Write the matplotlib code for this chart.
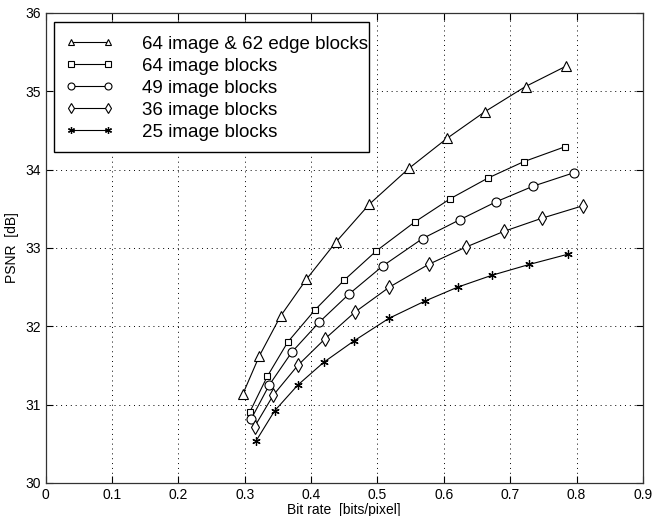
import matplotlib
matplotlib.use("Agg")
import matplotlib.pyplot as plt
from matplotlib.patches import Rectangle

plt.rcParams['font.family'] = ['Liberation Sans', 'DejaVu Sans']

x_tri = [0.297, 0.322, 0.354, 0.393, 0.437, 0.488, 0.548, 0.605, 0.662, 0.723, 0.784]
y_tri = [31.13, 31.62, 32.13, 32.60, 33.07, 33.56, 34.02, 34.40, 34.74, 35.06, 35.32]

x_sq = [0.308, 0.334, 0.365, 0.406, 0.450, 0.498, 0.556, 0.610, 0.666, 0.720, 0.782]
y_sq = [30.91, 31.36, 31.80, 32.21, 32.59, 32.96, 33.33, 33.63, 33.89, 34.10, 34.29]

x_ci = [0.310, 0.337, 0.371, 0.412, 0.457, 0.508, 0.568, 0.624, 0.679, 0.735, 0.796]
y_ci = [30.82, 31.25, 31.67, 32.05, 32.41, 32.77, 33.12, 33.36, 33.59, 33.79, 33.96]

x_di = [0.315, 0.343, 0.380, 0.421, 0.466, 0.518, 0.577, 0.633, 0.690, 0.748, 0.810]
y_di = [30.72, 31.12, 31.50, 31.84, 32.18, 32.50, 32.79, 33.01, 33.21, 33.38, 33.54]

x_st = [0.317, 0.345, 0.380, 0.419, 0.464, 0.517, 0.571, 0.621, 0.672, 0.729, 0.787]
y_st = [30.535, 30.92, 31.25, 31.54, 31.81, 32.10, 32.32, 32.50, 32.65, 32.79, 32.92]

labels = ["64 image & 62 edge blocks", "64 image blocks", "49 image blocks",
          "36 image blocks", "25 image blocks"]
xticks = [0, 0.1, 0.2, 0.3, 0.4, 0.5, 0.6, 0.7, 0.8, 0.9]
xtick_labels = ["0", "0.1", "0.2", "0.3", "0.4", "0.5", "0.6", "0.7", "0.8", "0.9"]
yticks = [30, 31, 32, 33, 34, 35, 36]

fig = plt.figure(figsize=(6.53, 5.16), dpi=100)
ax = fig.add_axes([0.0697, 0.064, 0.915, 0.911])

series = [(x_tri, y_tri, '^', 7), (x_sq, y_sq, 's', 5), (x_ci, y_ci, 'o', 6.5),
          (x_di, y_di, 'D', 5), (x_st, y_st, '*', 6)]
for (xs, ys, m, ms), lab in zip(series, labels):
    if m == 'D':
        ax.plot(xs, ys, color='black', lw=0.8, marker='d', ms=7.5,
                mfc='white', mec='black', mew=0.8, label=lab)
    elif m == '*':
        ax.plot(xs, ys, color='black', lw=0.8, marker=(6, 2, 0), ms=6,
                mfc='black', mec='black', mew=0.9, label=lab)
    else:
        ax.plot(xs, ys, color='black', lw=0.8, marker=m, ms=ms,
                mfc='white', mec='black', mew=0.8, label=lab)

ax.set_xlim(0, 0.9)
ax.set_ylim(30, 36)
ax.set_xticks(xticks)
ax.set_xticklabels(xtick_labels)
ax.set_yticks(yticks)
ax.tick_params(direction='in', top=True, right=True, labelsize=10, length=5, width=0.8)
ax.grid(True, linestyle=(0, (1, 4)), color='black', lw=0.7)
for s in ax.spines.values():
    s.set_linewidth(0.9)
    s.set_color('#333333')
ax.set_xlabel("Bit rate  [bits/pixel]", fontsize=10, labelpad=1)
ax.set_ylabel("PSNR  [dB]", fontsize=10, labelpad=4)

# legend box (frame drawn separately to match the reference's tight right edge)
frame = Rectangle((0.0142, 0.7043), 0.5272, 0.2766, transform=ax.transAxes,
                  facecolor='white', edgecolor='black', lw=1.0, zorder=4)
ax.add_patch(frame)
leg = ax.legend(loc='upper left', bbox_to_anchor=(0.0326, 0.952), numpoints=2,
                fontsize=13.5, handlelength=2.6, frameon=False,
                borderaxespad=0, labelspacing=0.26, handletextpad=1.5,
                borderpad=0)
leg.set_zorder(5)
for h in leg.legend_handles:
    h.set_markersize(5)

fig.savefig("out.png", dpi=100)
